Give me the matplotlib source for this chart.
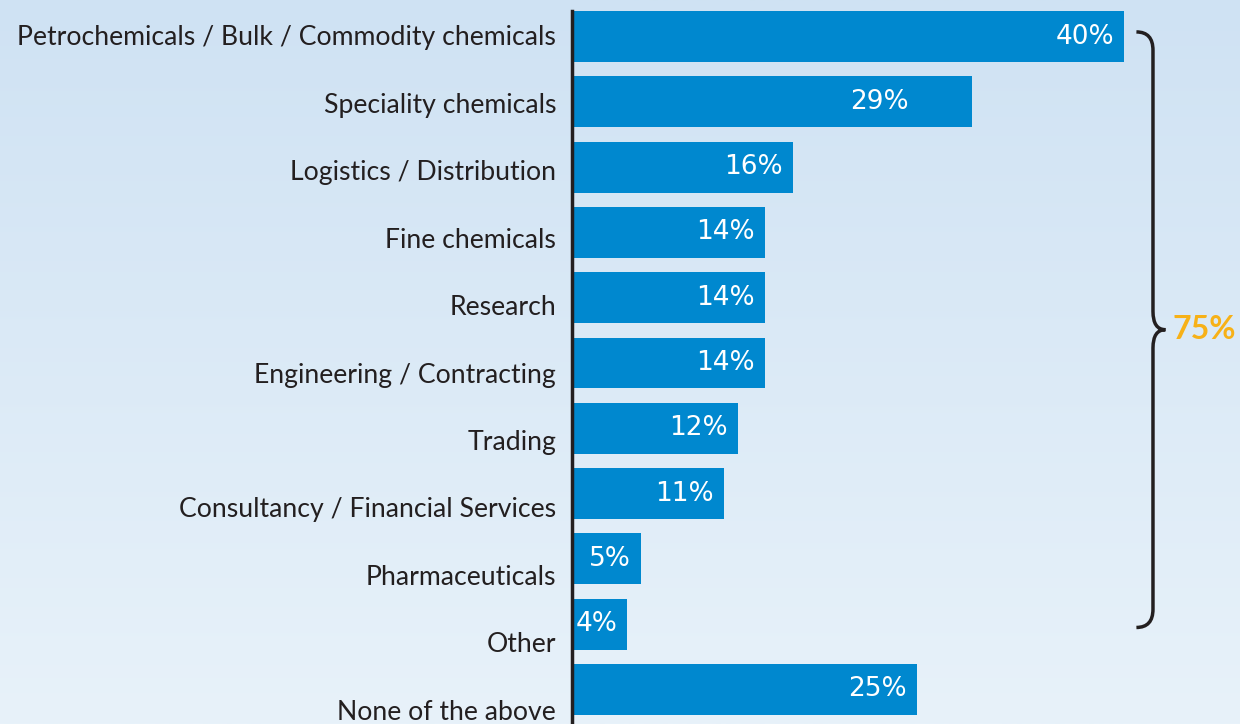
import numpy as np
import matplotlib.pyplot as plt
from matplotlib.path import Path
from matplotlib.patches import PathPatch
from matplotlib.colors import LinearSegmentedColormap
import matplotlib.transforms as mtransforms

categories = ['Petrochemicals / Bulk / Commodity chemicals', 'Speciality chemicals',
              'Logistics / Distribution', 'Fine chemicals', 'Research',
              'Engineering / Contracting', 'Trading', 'Consultancy / Financial Services',
              'Pharmaceuticals', 'Other', 'None of the above']
values = [40, 29, 16, 14, 14, 14, 12, 11, 5, 4, 25]
value_labels = ['40%', '29%', '16%', '14%', '14%', '14%', '12%', '11%', '5%', '4%', '25%']
brace_label = '75%'

BAR = '#0088cf'
TXT = '#231f20'
ORANGE = '#f7b117'

plt.rcParams['font.family'] = ['Lato', 'DejaVu Sans']

fig = plt.figure(figsize=(12.4, 7.24), dpi=100)

# background gradient
bg = fig.add_axes([0, 0, 1, 1], zorder=-1)
grad = np.linspace(0, 1, 256).reshape(-1, 1)
cmap = LinearSegmentedColormap.from_list('bg', ['#cfe2f3', '#e8f2fa'])
bg.imshow(grad, aspect='auto', cmap=cmap, extent=[0, 1, 0, 1], origin='upper')
bg.axis('off')

ax = fig.add_axes([572 / 1240, 0, 1 - 572 / 1240, 1])
ax.patch.set_alpha(0)
y = np.arange(len(values))
ax.barh(y, values, height=0.78, color=BAR, zorder=2)
ax.set_xlim(0, (1240 - 572) / 13.8)
ax.set_ylim(10 + (724 - 689.5) / 65.3, -36.5 / 65.3)

for s in ['top', 'right', 'bottom']:
    ax.spines[s].set_visible(False)
ax.spines['left'].set_color(TXT)
ax.spines['left'].set_linewidth(2.5)
ax.spines['left'].set_bounds(len(values) - 0.5, -0.39)
ax.set_xticks([])
ax.set_yticks([])

# category labels (they drift slightly lower than the bars)
off = mtransforms.offset_copy(ax.transData, fig=fig, x=-16, y=0, units='dots')
for i, name in enumerate(categories):
    ly = (38 + i * 67.4 - 36.5) / 65.3
    ax.text(0, ly, name, transform=off, ha='right', va='center',
            fontsize=19.2, color=TXT, clip_on=False)

# value labels inside bars
for i, (v, lab) in enumerate(zip(values, value_labels)):
    pad = 63 if v == 29 else 10
    t = mtransforms.offset_copy(ax.transData, fig=fig, x=-pad, y=0, units='dots')
    ax.text(v, i, lab, transform=t, ha='right', va='center',
            fontsize=19, family='DejaVu Sans', color='white', zorder=3)

# curly brace from first bar to "Other"
y0, y1 = -0.07, 9.05
ym = (y0 + y1) / 2
x0, x1, x2 = 40.9, 42.1, 43.0
r = 0.28
verts = [(x0, y0), (x1, y0), (x1, y0 + r),
         (x1, ym - r), (x1, ym), (x2, ym),
         (x1, ym), (x1, ym + r),
         (x1, y1 - r), (x1, y1), (x0, y1)]
codes = [Path.MOVETO, Path.CURVE3, Path.CURVE3,
         Path.LINETO, Path.CURVE3, Path.CURVE3,
         Path.CURVE3, Path.CURVE3,
         Path.LINETO, Path.CURVE3, Path.CURVE3]
ax.add_patch(PathPatch(Path(verts, codes), fill=False, lw=2.5,
                       edgecolor=TXT, clip_on=False, capstyle='butt'))
ax.text(43.5, ym, brace_label, ha='left', va='center', fontsize=23,
        fontweight='bold', color=ORANGE, clip_on=False)

fig.savefig('out.png', dpi=100)
